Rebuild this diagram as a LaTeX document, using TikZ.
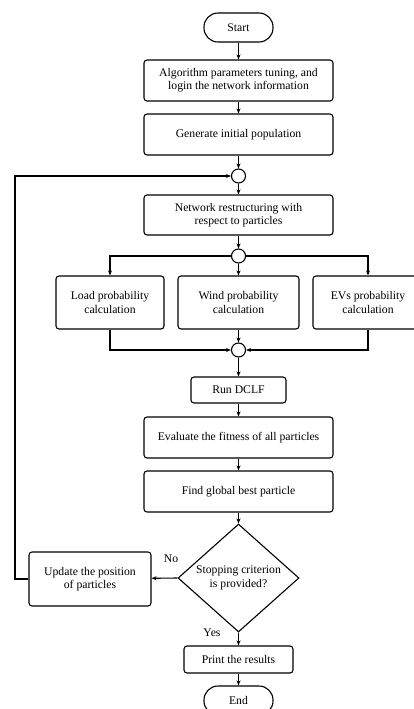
\documentclass[tikz,border=0pt]{standalone}
\usepackage{fontspec}
\setmainfont{Liberation Serif}
\usetikzlibrary{shapes.geometric,arrows.meta}
\begin{document}
\begin{tikzpicture}[x=1pt,y=-1pt,
  font=\fontsize{11.7}{13.3}\selectfont,
  box/.style={draw,line width=1.1pt,rounded corners=3pt,align=center,inner sep=0pt},
  term/.style={draw,line width=1.1pt,rounded corners=14pt,minimum width=69pt,minimum height=29pt,inner sep=0pt},
  junc/.style={draw,line width=1.1pt,circle,minimum size=14pt,inner sep=0pt},
  arr/.style={line width=1.1pt,-{Stealth[length=5pt,width=4pt]}},
  ln/.style={line width=1.1pt}]
\useasboundingbox (0,0) rectangle (414,709);
\node[term] (start) at (238.5,27.5) {Start};
\node[box,minimum width=189pt,minimum height=41pt] (algo) at (238.5,80.5) {Algorithm parameters tuning, and\\login the network information};
\node[box,minimum width=189pt,minimum height=41pt] (gen) at (238.5,134.5) {Generate initial population};
\node[junc] (c1) at (238.5,176) {};
\node[box,minimum width=189pt,minimum height=40pt] (net) at (238.5,215) {Network restructuring with\\respect to particles};
\node[junc] (c2) at (238.5,256) {};
\node[box,minimum width=108pt,minimum height=53pt] (load) at (110,302.5) {Load probability\\calculation};
\node[box,minimum width=121pt,minimum height=53pt] (wind) at (238.5,302.5) {Wind probability\\calculation};
\node[box,minimum width=110pt,minimum height=53pt] (evs) at (368,302.5) {EVs probability\\calculation};
\node[junc] (c3) at (238.5,350) {};
\node[box,minimum width=95pt,minimum height=26pt] (dclf) at (238.5,390) {Run DCLF};
\node[box,minimum width=189pt,minimum height=41pt] (eval) at (238.5,437.5) {Evaluate the fitness of all particles};
\node[box,minimum width=189pt,minimum height=41pt] (find) at (238.5,491.5) {Find global best particle};
\node[draw,line width=1.1pt,diamond,minimum width=121pt,minimum height=108pt,inner sep=0pt] (dia) at (238.5,578) {};
\node[align=center] (diat) at (dia.center) {Stopping criterion\\is provided?};
\node[box,minimum width=122pt,minimum height=54pt] (upd) at (90,579) {Update the position\\of particles};
\node[box,minimum width=109pt,minimum height=27pt] (print) at (238.5,659.5) {Print the results};
\node[term] (end) at (238.5,700.5) {End};
\node (no) at (171,559) {No};
\node (yes) at (212,633) {Yes};
\coordinate (lp) at (15,579);
\draw[arr] (start) -- (algo);
\draw[arr] (algo) -- (gen);
\draw[arr] (gen) -- (c1);
\draw[arr] (c1) -- (net);
\draw[arr] (net) -- (c2);
\draw[arr] (c2) -| (load);
\draw[arr] (c2) -- (wind);
\draw[arr] (c2) -| (evs);
\draw[arr] (load) |- (c3);
\draw[arr] (wind) -- (c3);
\draw[arr] (evs) |- (c3);
\draw[arr] (c3) -- (dclf);
\draw[arr] (dclf) -- (eval);
\draw[arr] (eval) -- (find);
\draw[arr] (find) -- (dia);
\draw[arr] (dia.west) -- (upd);
\draw[arr] (upd.west) -- (lp) |- (c1);
\draw[arr] (dia.south) -- (print);
\draw[arr] (print) -- (end);
\end{tikzpicture}
\end{document}
